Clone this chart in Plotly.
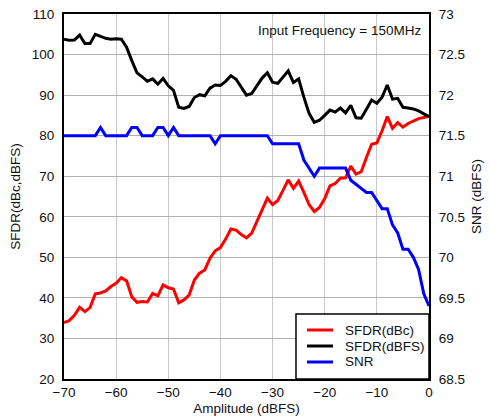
import plotly.graph_objects as go

amplitude = list(range(-70, 1))

sfdr_dbfs = [103.8, 103.5, 103.6, 104.8, 102.7, 102.7, 105.0, 104.5, 104.0, 103.8,
             103.9, 103.8, 101.8, 98.5, 95.5, 94.5, 93.4, 94.0, 92.7, 94.1,
             92.3, 91.2, 87.0, 86.7, 87.2, 89.4, 90.1, 89.8, 91.7, 92.5,
             92.4, 93.4, 94.8, 93.9, 92.0, 90.0, 90.4, 92.2, 94.2, 95.5,
             93.2, 92.9, 94.5, 96.0, 93.1, 94.0, 89.5, 85.5, 83.3, 83.8,
             85.0, 86.3, 85.8, 86.8, 85.6, 87.5, 84.4, 84.3, 86.5, 88.8,
             88.0, 89.5, 92.5, 89.0, 89.2, 87.0, 86.8, 86.6, 86.1, 85.5,
             84.7]

sfdr_dbc = [33.9, 34.4, 35.7, 37.7, 36.6, 37.6, 41.0, 41.2, 41.7, 42.8,
            43.6, 45.0, 44.2, 40.3, 38.9, 39.1, 39.0, 41.1, 40.5, 43.2,
            42.5, 42.2, 38.8, 39.5, 40.7, 44.4, 46.1, 46.9, 49.8, 51.6,
            52.4, 54.5, 57.0, 56.7, 55.6, 54.8, 56.0, 58.8, 61.8, 64.6,
            63.0, 64.0, 66.5, 69.1, 67.0, 68.8, 66.0, 63.0, 61.3, 62.3,
            64.5, 67.6, 68.2, 69.5, 69.6, 72.5, 70.5, 71.1, 74.6, 77.9,
            78.2, 81.2, 84.7, 81.8, 83.2, 82.1, 83.0, 83.6, 84.2, 84.5,
            84.8]

snr = [71.5, 71.5, 71.5, 71.5, 71.5, 71.5, 71.5, 71.6, 71.5, 71.5,
       71.5, 71.5, 71.5, 71.6, 71.6, 71.5, 71.5, 71.5, 71.6, 71.6,
       71.5, 71.6, 71.5, 71.5, 71.5, 71.5, 71.5, 71.5, 71.5, 71.4,
       71.5, 71.5, 71.5, 71.5, 71.5, 71.5, 71.5, 71.5, 71.5, 71.5,
       71.4, 71.4, 71.4, 71.4, 71.4, 71.4, 71.2, 71.1, 71.0, 71.1,
       71.1, 71.1, 71.1, 71.1, 71.1, 70.95, 70.9, 70.85, 70.8, 70.8,
       70.7, 70.6, 70.6, 70.4, 70.3, 70.1, 70.1, 70.0, 69.85, 69.55,
       69.4]

left_ticks = list(range(20, 111, 10))
right_ticks = [68.5, 69, 69.5, 70, 70.5, 71, 71.5, 72, 72.5, 73]
x_ticks = list(range(-70, 1, 10))

series_names = ["SFDR(dBc)", "SFDR(dBFS)", "SNR"]
series_colors = ["#ff0000", "#000000", "#0000ff"]

FONT = "Liberation Sans, Arial, sans-serif"
FS = 13.5

fig = go.Figure()
fig.add_trace(go.Scatter(x=amplitude, y=sfdr_dbc, mode="lines", name=series_names[0],
                         line=dict(color=series_colors[0], width=3)))
fig.add_trace(go.Scatter(x=amplitude, y=sfdr_dbfs, mode="lines", name=series_names[1],
                         line=dict(color=series_colors[1], width=3)))
fig.add_trace(go.Scatter(x=amplitude, y=snr, mode="lines", name=series_names[2], yaxis="y2",
                         line=dict(color=series_colors[2], width=3)))

# Legend drawn as a boxed key in paper coordinates (tighter row spacing than the native legend)
shapes = [dict(type="rect", xref="paper", yref="paper", x0=0.6356, x1=1.0, y0=0.0, y1=0.178,
               line=dict(color="black", width=1.5), fillcolor="white", layer="above")]
annotations = [dict(text="Input Frequency = 150MHz", xref="paper", yref="paper",
                    x=0.983, y=0.982, xanchor="right", yanchor="top", showarrow=False,
                    font=dict(size=FS))]
row_y = [0.1342, 0.0904, 0.0466]
for name, color, yy in zip(series_names, series_colors, row_y):
    shapes.append(dict(type="line", xref="paper", yref="paper", x0=0.6658, x1=0.7370,
                       y0=yy, y1=yy, line=dict(color=color, width=3), layer="above"))
    annotations.append(dict(text=name, xref="paper", yref="paper", x=0.7644, y=yy,
                            xanchor="left", yanchor="middle", showarrow=False,
                            font=dict(size=FS)))

fig.update_layout(
    width=490, height=416,
    margin=dict(l=64, r=61, t=14, b=37, autoexpand=False),
    paper_bgcolor="white", plot_bgcolor="white",
    font=dict(family=FONT, size=FS, color="#111111"),
    showlegend=False,
    xaxis=dict(range=[-70, 0], tickvals=x_ticks, showgrid=True, gridcolor="#c8c8c8",
               gridwidth=1, showline=True, linecolor="black", linewidth=2, mirror=True,
               ticks="", zeroline=False, automargin=False, ticklabelstandoff=0,
               title=dict(text="Amplitude (dBFS)", standoff=4, font=dict(size=FS))),
    yaxis=dict(range=[20, 110], tickvals=left_ticks, showgrid=True, gridcolor="#b0b0b0",
               gridwidth=1, showline=True, linecolor="black", linewidth=2, mirror=True,
               ticks="", zeroline=False, automargin=False, ticklabelstandoff=5,
               title=dict(text="SFDR(dBc,dBFS)", standoff=8, font=dict(size=FS))),
    yaxis2=dict(range=[68.5, 73], tickvals=right_ticks, overlaying="y", side="right",
                showgrid=False, showline=True, linecolor="black", linewidth=2,
                ticks="", zeroline=False, automargin=False, ticklabelstandoff=5,
                title=dict(text="SNR (dBFS)", standoff=8, font=dict(size=FS))),
    shapes=shapes,
    annotations=annotations,
)

fig.write_html("out.html", config={"displayModeBar": False},
               post_script="document.body.style.margin='0';")
